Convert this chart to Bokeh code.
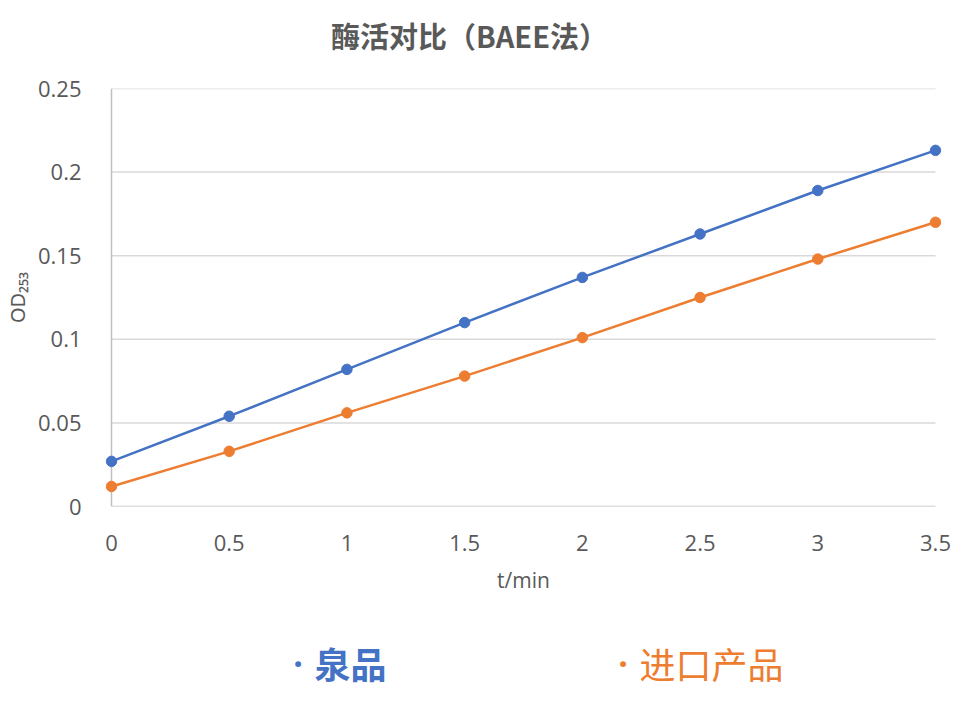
from bokeh.plotting import figure
from bokeh.models import Range1d, FixedTicker, Label
from bokeh.layouts import column
from bokeh.embed import file_html
from bokeh.resources import INLINE

# ---- data ----
t_min = [0, 0.5, 1, 1.5, 2, 2.5, 3, 3.5]
quanpin = [0.027, 0.054, 0.082, 0.110, 0.137, 0.163, 0.189, 0.213]
jinkou = [0.012, 0.033, 0.056, 0.078, 0.101, 0.125, 0.148, 0.170]
series_names = ["泉品", "进口产品"]
x_ticks = [0, 0.5, 1, 1.5, 2, 2.5, 3, 3.5]
x_tick_labels = ["0", "0.5", "1", "1.5", "2", "2.5", "3", "3.5"]
y_ticks = [0, 0.05, 0.1, 0.15, 0.2, 0.25]
y_tick_labels = ["0", "0.05", "0.1", "0.15", "0.2", "0.25"]
title_text = "酶活对比（BAEE法）"
x_label = "t/min"
y_label = "OD₂₅₃"

BLUE = "#4472C4"
ORANGE = "#ED7D31"
GRAY_TXT = "#595959"
GRID = "#d9d9d9"
AXIS = "#bfbfbf"
LAT = "Open Sans"
CJK = "Noto Sans CJK SC"

W = 953
HEAD_H = 60
MAIN_H = 570
LEG_H = 63
PLOT_W = 824            # pixel width of x 0..3.5
PLOT_H = 418
PAD_PX = 6
BORDER_L = 105
FRAME_W = PLOT_W + 2 * PAD_PX
BORDER_R = W - BORDER_L - FRAME_W

xmin, xmax = x_ticks[0], x_ticks[-1]
ymin, ymax = y_ticks[0], y_ticks[-1]
pad = PAD_PX * (xmax - xmin) / PLOT_W


def strip(height):
    f = figure(width=W, height=height, output_backend="svg", toolbar_location=None,
               x_range=Range1d(BORDER_L, BORDER_L + FRAME_W), y_range=Range1d(0, height),
               x_axis_location=None, y_axis_location=None,
               min_border=0, min_border_left=BORDER_L, min_border_right=BORDER_R,
               min_border_top=0, min_border_bottom=0)
    f.outline_line_color = None
    f.xgrid.visible = False
    f.ygrid.visible = False
    return f


# header strip with the chart title (frame aligned with main frame: data x == page px)
head = strip(HEAD_H)
head.add_layout(Label(x=469, y=HEAD_H - 34, text=title_text, text_align="center",
                      text_baseline="middle", text_font=CJK, text_font_size="29px",
                      text_font_style="bold", text_color=GRAY_TXT))

# main chart
p = figure(width=W, height=MAIN_H, output_backend="svg", toolbar_location=None,
           x_range=Range1d(xmin - pad, xmax + pad), y_range=Range1d(ymin, ymax),
           min_border_left=BORDER_L, min_border_right=BORDER_R, min_border_top=88 - HEAD_H,
           min_border_bottom=MAIN_H - (88 - HEAD_H) - PLOT_H)
p.outline_line_color = None
p.xgrid.visible = False
p.ygrid.visible = False

# gridlines (from tick arrays) and axis lines
gy = y_ticks[1:]
p.segment(x0=[xmin] * len(gy), y0=gy, x1=[xmax] * len(gy), y1=gy, line_color=GRID, line_width=1.5)
p.segment(x0=[xmin], y0=[ymin], x1=[xmax], y1=[ymin], line_color=AXIS, line_width=1.5)
p.segment(x0=[xmin], y0=[ymin], x1=[xmin], y1=[ymax], line_color=AXIS, line_width=1.5)

# series
p.line(t_min, quanpin, line_color=BLUE, line_width=2.5)
p.scatter(t_min, quanpin, size=10.5, fill_color=BLUE, line_color=BLUE)
p.line(t_min, jinkou, line_color=ORANGE, line_width=2.5)
p.scatter(t_min, jinkou, size=10.5, fill_color=ORANGE, line_color=ORANGE)

# axes
for ax in (p.xaxis, p.yaxis):
    ax.axis_line_color = None
    ax.major_tick_line_color = None
    ax.minor_tick_line_color = None
    ax.major_label_text_font = LAT
    ax.major_label_text_font_size = "22px"
    ax.major_label_text_color = GRAY_TXT
    ax.axis_label_text_font_style = "normal"
    ax.axis_label_text_color = GRAY_TXT

p.xaxis.ticker = FixedTicker(ticks=x_ticks)
p.xaxis.major_label_overrides = {k: v for k, v in zip(x_ticks, x_tick_labels)}
p.xaxis.major_label_standoff = 22
p.xaxis.axis_label = x_label
p.xaxis.axis_label_text_font = LAT
p.xaxis.axis_label_text_font_size = "21px"
p.xaxis.axis_label_standoff = 12

p.yaxis.ticker = FixedTicker(ticks=y_ticks)
p.yaxis.major_label_overrides = {k: v for k, v in zip(y_ticks, y_tick_labels)}
p.yaxis.major_label_standoff = 18
p.yaxis.axis_label = y_label
p.yaxis.axis_label_text_font = "Noto Sans"
p.yaxis.axis_label_text_font_size = "20px"
p.yaxis.axis_label_standoff = 4

# legend strip below
leg = strip(LEG_H)
leg_y = LEG_H - 32
for name, color, style, dot_x, txt_x in [(series_names[0], BLUE, "bold", 297.5, 314),
                                         (series_names[1], ORANGE, "normal", 622.5, 639)]:
    leg.add_layout(Label(x=dot_x, y=leg_y, text="·", text_align="center", text_baseline="middle",
                         text_font=LAT, text_font_size="34px", text_font_style="bold",
                         text_color=color))
    leg.add_layout(Label(x=txt_x, y=leg_y, text=name, text_align="left", text_baseline="middle",
                         text_font=CJK, text_font_size="36px", text_font_style=style,
                         text_color=color))

layout = column(head, p, leg, spacing=0)
open("out.html", "w").write(file_html(layout, INLINE))
